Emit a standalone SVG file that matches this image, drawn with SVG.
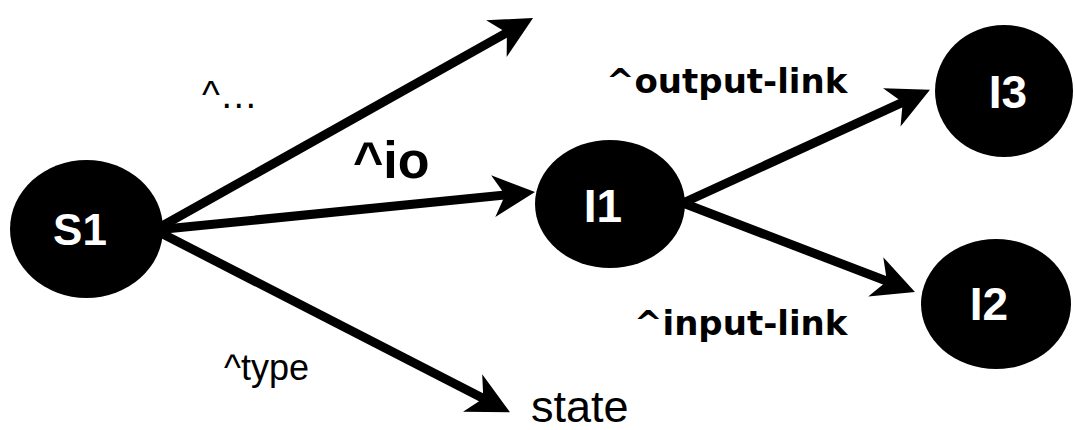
<svg xmlns="http://www.w3.org/2000/svg" width="1075" height="430" viewBox="0 0 1075 430">
<style>
.edge{stroke:#000;stroke-width:9;fill:none;marker-end:url(#ah)}
.node{fill:#000}
.nl{fill:#fff;font-family:"Liberation Sans",Arial,sans-serif;font-weight:bold;font-size:46px;text-anchor:middle}
.lbl{fill:#000;font-family:"Liberation Sans",Arial,sans-serif;font-size:36px}
.lblb{fill:#000;font-family:"DejaVu Sans",Verdana,sans-serif;font-weight:bold;font-size:34px}
</style>
<defs>
<marker id="ah" viewBox="-46 -23 48 46" refX="-20" refY="0" markerWidth="48" markerHeight="46" markerUnits="userSpaceOnUse" orient="auto">
<path d="M0,0 L-42,-21 L-30,0 L-42,21 Z" fill="#000"/>
</marker>
</defs>
<rect width="1075" height="430" fill="#fff"/>
<g id="connectors">
<line class="edge" x1="155" y1="230" x2="515.6" y2="27.8"/>
<line class="edge" x1="155" y1="230" x2="515.1" y2="194"/>
<line class="edge" x1="155" y1="230" x2="492.2" y2="403"/>
<line class="edge" x1="683" y1="203" x2="911.8" y2="98.2"/>
<line class="edge" x1="683" y1="203" x2="896.3" y2="284.8"/>
</g>
<g id="S1"><ellipse class="node" cx="86.5" cy="229" rx="76.5" ry="69"/><text class="nl" x="80" y="245" style="font-size:44px">S1</text></g>
<g id="I1"><ellipse class="node" cx="610" cy="204" rx="75" ry="64"/><text class="nl" x="603" y="222">I1</text></g>
<g id="I3"><ellipse class="node" cx="1004" cy="91" rx="69" ry="66"/><text class="nl" x="1008" y="108">I3</text></g>
<g id="I2"><ellipse class="node" cx="996" cy="304" rx="75" ry="65"/><text class="nl" x="989" y="320">I2</text></g>
<g id="labels">
<text class="lbl" x="202" y="108" style="font-size:38px">^…</text>
<text class="lbl" x="353" y="178" style="font-size:52px;font-weight:bold">^io</text>
<text class="lblb" x="606" y="93">^output-link</text>
<text class="lblb" x="634" y="335">^input-link</text>
<text class="lbl" x="224" y="380">^type</text>
<text class="lbl" x="531" y="422" style="font-size:45px">state</text>
</g>
</svg>
